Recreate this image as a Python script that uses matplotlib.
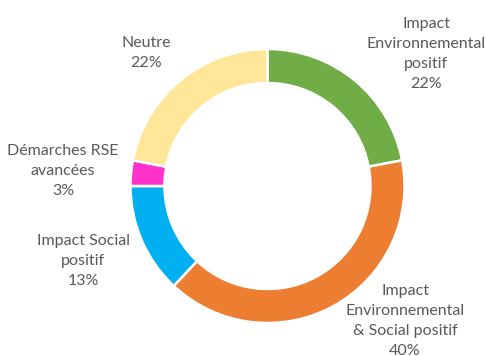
import matplotlib
matplotlib.use("Agg")
import matplotlib.pyplot as plt

categories = [
    "Impact\nEnvironnemental\npositif",
    "Impact\nEnvironnemental\n& Social positif",
    "Impact Social\npositif",
    "Démarches RSE\navancées",
    "Neutre",
]
values = [22, 40, 13, 3, 22]
colors = ["#70AD47", "#ED7D31", "#00B0F0", "#FF33CC", "#FFE699"]

# label anchor points (pixels from top-left), centred blocks
label_pos = [(426, 54), (405, 321), (83, 261), (63, 171), (146, 53)]

W, H = 486, 356
fig = plt.figure(figsize=(W / 100, H / 100), dpi=100)
ax = fig.add_axes([0, 0, 1, 1])

ax.pie(values, colors=colors, startangle=90, counterclock=False,
       center=(267.5, H - 186), radius=137, frame=True,
       wedgeprops=dict(width=34, edgecolor="white", linewidth=1.8))
ax.set_xlim(0, W)
ax.set_ylim(0, H)
ax.set_aspect("equal")
ax.axis("off")

for cat, val, (px, py) in zip(categories, values, label_pos):
    ax.text(px, H - py, f"{cat}\n{val}%", ha="center", va="center",
            fontsize=11.5, color="#595959", family="Lato", linespacing=1.55)

fig.savefig("out.png", dpi=100)
